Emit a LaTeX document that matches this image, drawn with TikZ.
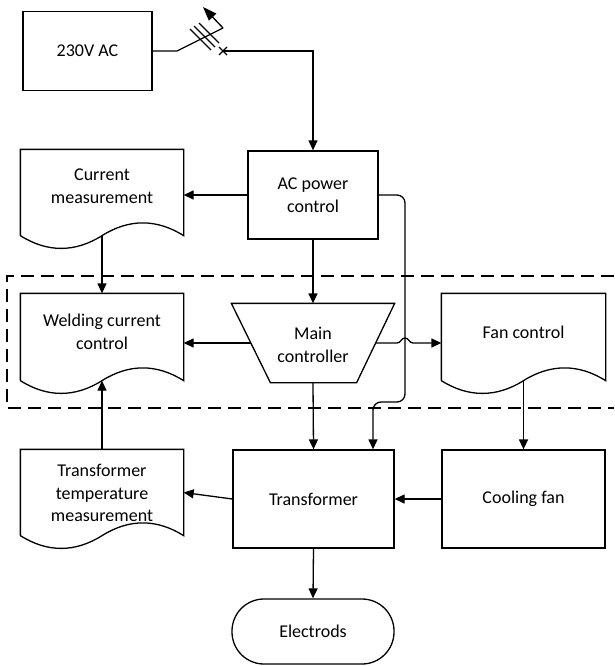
\documentclass[tikz,border=0pt]{standalone}
\usepackage{fontspec}
\setmainfont{Carlito}
\usetikzlibrary{arrows.meta,calc}
\begin{document}
\begin{tikzpicture}[x=1pt,y=-1pt,line width=1.3pt,
  txt/.style={font=\fontsize{18}{22.5}\selectfont,align=center,inner sep=0pt},
  boxnode/.style={draw,rectangle,inner sep=0pt,txt},
  area/.style={rectangle,inner sep=0pt,draw=none},
  arr/.style={-{Triangle[length=10pt,width=9pt]}},
  frame/.style={dash pattern=on 13pt off 7pt}]
\useasboundingbox (0,0) rectangle (614,666);
\newcommand\docoutline[1]{%
  \draw (#1.south west) -- (#1.north west) -- (#1.north east) -- (#1.south east)
    .. controls ($(#1.south east)+(-27,-17)$) and ($(#1.south)+(27,-17)$) .. (#1.south)
    .. controls ($(#1.south)+(-27,17)$) and ($(#1.south west)+(27,17)$) .. (#1.south west);}
% dashed frame
\draw[frame] (614,276) -- (7,276) -- (7,408) -- (614,408);
% nodes
\node[boxnode,minimum width=129pt,minimum height=79pt] (ac) at (87.5,51) {230V AC};
\node[boxnode,minimum width=130pt,minimum height=88pt] (acp) at (313,195) {AC power\\control};
\node[area,minimum width=162pt,minimum height=85pt] (cm) at (102,192.5) {};
\docoutline{cm}
\node[txt] (cmt) at (102,186) {Current\\measurement};
\node[area,minimum width=162pt,minimum height=86pt] (wc) at (102,337) {};
\docoutline{wc}
\node[txt] (wct) at (102,332) {Welding current\\control};
\node[area,minimum width=163pt,minimum height=86pt] (fc) at (523.5,337) {};
\docoutline{fc}
\node[txt] (fct) at (523.5,332) {Fan control};
\node[area,minimum width=162pt,minimum height=85pt] (tt) at (102,492.5) {};
\docoutline{tt}
\node[txt] (ttt) at (102,493) {Transformer\\temperature\\measurement};
\node[area,minimum width=162pt,minimum height=78pt] (mc) at (313,343) {};
\draw (mc.north west) -- (mc.north east) -- ($(mc.south east)+(-38,0)$) -- ($(mc.south west)+(39,0)$) -- cycle;
\node[txt] (mct) at (313,345) {Main\\controller};
\coordinate (mcl) at ($(mc.west)+(19.5,0)$);
\coordinate (mcr) at ($(mc.east)+(-19,0)$);
\node[boxnode,minimum width=161pt,minimum height=98pt] (tr) at (313.5,499) {Transformer};
\node[boxnode,minimum width=163pt,minimum height=98pt] (cf) at (523.5,499) {Cooling fan};
\node[boxnode,minimum width=162pt,minimum height=65pt,rounded corners=32pt] (el) at (313,631.5) {Electrods};
% switch
\coordinate (s0) at (177,51);
\coordinate (s1) at (223,28);
\coordinate (s2) at (203,7);
\coordinate (sx) at (223,51);
\draw (ac.east) -- (s0) -- (s1);
\draw[-{Triangle[length=14pt,width=10pt]}] (s1) -- (s2);
\draw (190,29) -- (211,50);
\draw (194,26) -- (215,47);
\draw (199,23) -- (219,43);
\draw ($(sx)+(-4,-4)$) -- ($(sx)+(4,4)$) ($(sx)+(-4,4)$) -- ($(sx)+(4,-4)$);
\draw[arr] (sx) -| (acp.north);
% connectors
\draw[arr] (acp.west) -- (acp.west -| cm.east);
\draw[arr] (acp.south) -- (acp.south |- mc.north);
\coordinate (b1) at (405,402);
\coordinate (b2) at (373,402);
\draw[arr,rounded corners=8pt] (acp.east) -| (b1) -- (b2) -- (b2 |- tr.north);
\draw[arr] (cm.south) -- (wc.north);
\draw[arr] (mcl) -- (mcl -| wc.east);
\coordinate (jc) at (b1 |- mcr);
\draw[arr] (mcr) -- ($(jc)+(-8,0)$) .. controls ($(jc)+(-4,0)$) and ($(jc)+(-4,-5)$) .. ($(jc)+(0,-5)$)
  .. controls ($(jc)+(4,-5)$) and ($(jc)+(4,0)$) .. ($(jc)+(8,0)$) -- (mcr -| fc.west);
\draw[arr] (mc.south) -- (tr.north);
\draw[arr] (fc.south) -- (cf.north);
\draw[arr] (cf.west) -- (tr.east);
\draw[arr] (tr.west) -- (tt.east);
\draw[arr] (tt.north) -- (wc.south);
\draw[arr] (tr.south) -- (el.north);
\end{tikzpicture}
\end{document}
